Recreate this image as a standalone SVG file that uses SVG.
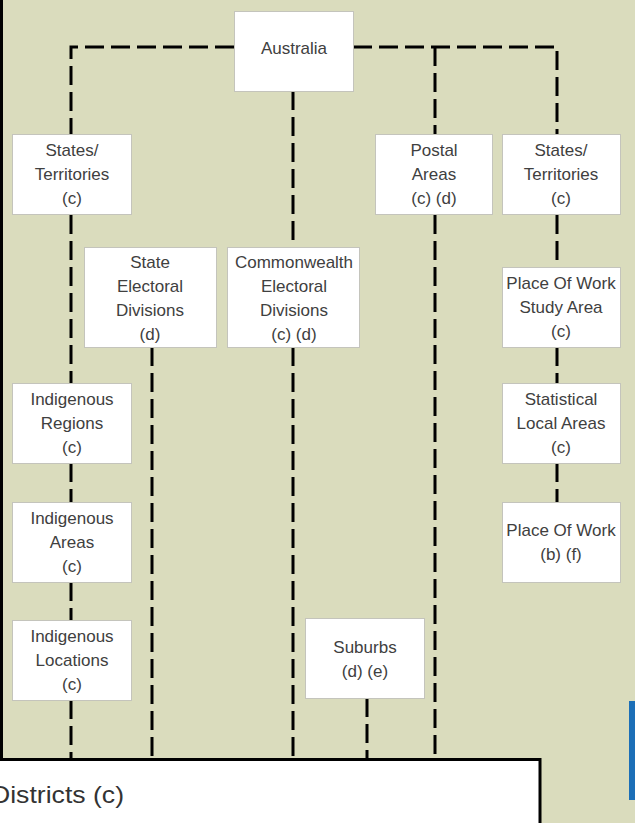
<svg xmlns="http://www.w3.org/2000/svg" width="635" height="823" viewBox="0 0 635 823">
<style>
.box{fill:#fff;stroke:#c4c4bc;stroke-width:1}
.t{font-family:"Liberation Sans",Arial,sans-serif;font-size:17px;fill:#404040;text-anchor:middle}
.c{fill:none;stroke:#000;stroke-width:3;stroke-dasharray:19 7}
</style>
<rect x="0" y="0" width="635" height="823" fill="#DADCBD"/>
<line x1="1.5" y1="0" x2="1.5" y2="760" stroke="#000" stroke-width="3"/>
<g id="connectors">
<path class="c" d="M234 47 H71 V134"/>
<path class="c" d="M353 47 H557 V134"/>
<path class="c" d="M435 47 V134"/>
<path class="c" d="M293 91 V247"/>
<path class="c" d="M71 215 V383"/>
<path class="c" d="M71 463 V502"/>
<path class="c" d="M71 582 V620"/>
<path class="c" d="M71 700 V759"/>
<path class="c" d="M152 347 V759"/>
<path class="c" d="M293 347 V759"/>
<path class="c" d="M435 215 V759"/>
<path class="c" d="M367 698 V759"/>
<path class="c" d="M557 215 V267"/>
<path class="c" d="M557 347 V383"/>
<path class="c" d="M557 463 V502"/>
</g>
<g id="australia"><rect class="box" x="234.5" y="11.5" width="119" height="80"/><text class="t" x="294" y="54">Australia</text></g>
<g id="states-left"><rect class="box" x="12.5" y="134.5" width="119" height="80"/><text class="t" x="72" y="156">States/</text><text class="t" x="72" y="180">Territories</text><text class="t" x="72" y="204">(c)</text></g>
<g id="postal"><rect class="box" x="375.5" y="134.5" width="117" height="80"/><text class="t" x="434" y="156">Postal</text><text class="t" x="434" y="180">Areas</text><text class="t" x="434" y="204">(c) (d)</text></g>
<g id="states-right"><rect class="box" x="502.5" y="134.5" width="118" height="80"/><text class="t" x="561" y="156">States/</text><text class="t" x="561" y="180">Territories</text><text class="t" x="561" y="204">(c)</text></g>
<g id="state-electoral"><rect class="box" x="84.5" y="247.5" width="132" height="100"/><text class="t" x="150" y="268">State</text><text class="t" x="150" y="292">Electoral</text><text class="t" x="150" y="316">Divisions</text><text class="t" x="150" y="340">(d)</text></g>
<g id="commonwealth"><rect class="box" x="227.5" y="247.5" width="132" height="100"/><text class="t" x="294" y="268">Commonwealth</text><text class="t" x="294" y="292">Electoral</text><text class="t" x="294" y="316">Divisions</text><text class="t" x="294" y="340">(c) (d)</text></g>
<g id="powsa"><rect class="box" x="502.5" y="267.5" width="118" height="80"/><text class="t" x="561" y="289">Place Of Work</text><text class="t" x="561" y="313">Study Area</text><text class="t" x="561" y="337">(c)</text></g>
<g id="ind-regions"><rect class="box" x="12.5" y="383.5" width="119" height="80"/><text class="t" x="72" y="405">Indigenous</text><text class="t" x="72" y="429">Regions</text><text class="t" x="72" y="453">(c)</text></g>
<g id="sla"><rect class="box" x="502.5" y="383.5" width="118" height="80"/><text class="t" x="561" y="405">Statistical</text><text class="t" x="561" y="429">Local Areas</text><text class="t" x="561" y="453">(c)</text></g>
<g id="ind-areas"><rect class="box" x="12.5" y="502.5" width="119" height="80"/><text class="t" x="72" y="524">Indigenous</text><text class="t" x="72" y="548">Areas</text><text class="t" x="72" y="572">(c)</text></g>
<g id="pow"><rect class="box" x="502.5" y="502.5" width="118" height="80"/><text class="t" x="561" y="536">Place Of Work</text><text class="t" x="561" y="560">(b) (f)</text></g>
<g id="ind-locations"><rect class="box" x="12.5" y="620.5" width="119" height="80"/><text class="t" x="72" y="642">Indigenous</text><text class="t" x="72" y="666">Locations</text><text class="t" x="72" y="690">(c)</text></g>
<g id="suburbs"><rect class="box" x="305.5" y="618.5" width="119" height="80"/><text class="t" x="365" y="653">Suburbs</text><text class="t" x="365" y="677">(d) (e)</text></g>
<g id="districts"><rect x="-10" y="759.5" width="550" height="80" fill="#fff" stroke="#000" stroke-width="3"/><text x="-9" y="803" font-family="Liberation Sans, Arial, sans-serif" font-size="24" fill="#333" textLength="133" lengthAdjust="spacingAndGlyphs">Districts (c)</text></g>
<rect x="629" y="701" width="6" height="99" fill="#1C6FB7"/>
</svg>
